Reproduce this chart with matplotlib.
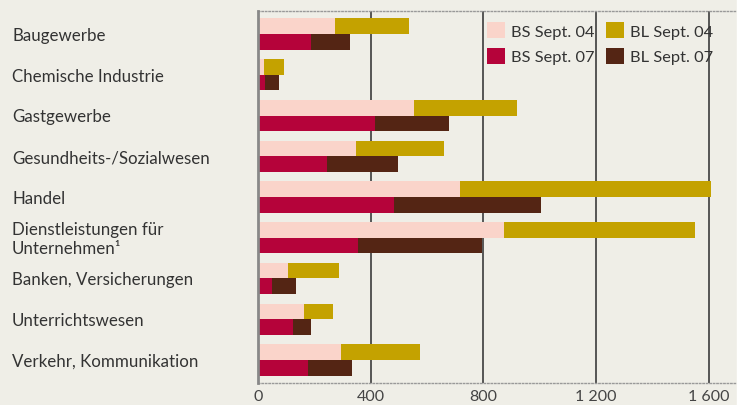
import matplotlib
matplotlib.use("Agg")
import matplotlib.pyplot as plt
import matplotlib.transforms as mtransforms
import numpy as np

# data
branchen = ["Baugewerbe", "Chemische Industrie", "Gastgewerbe", "Gesundheits-/Sozialwesen",
            "Handel", "Dienstleistungen für\nUnternehmen¹", "Banken, Versicherungen",
            "Unterrichtswesen", "Verkehr, Kommunikation"]
bs_04 = [273, 21, 554, 348, 718, 874, 107, 163, 295]
bl_04 = [263, 71, 366, 313, 891, 678, 181, 103, 280]
bs_07 = [188, 25, 416, 245, 483, 355, 50, 124, 178]
bl_07 = [139, 50, 262, 252, 522, 441, 85, 64, 156]
xticks = [0, 400, 800, 1200, 1600]
xticklabels = ["0", "400", "800", "1 200", "1 600"]

c_bs04 = "#FAD4CA"
c_bl04 = "#C4A200"
c_bs07 = "#B5033A"
c_bl07 = "#542514"
bg = "#EFEEE7"

plt.rcParams['font.family'] = ['Lato', 'DejaVu Sans']

fig = plt.figure(figsize=(7.44, 4.06), dpi=100)
fig.patch.set_facecolor(bg)
ax = fig.add_axes([258/744, 1 - 384/406, (737 - 258)/744, (384 - 12)/406])
ax.set_facecolor(bg)

y = np.arange(len(branchen))
h = 0.385

ax.barh(y - h/2, bs_04, height=h, color=c_bs04, label="BS Sept. 04", zorder=3)
ax.barh(y - h/2, bl_04, left=bs_04, height=h, color=c_bl04, label="BL Sept. 04", zorder=3)
ax.barh(y + h/2, bs_07, height=h, color=c_bs07, label="BS Sept. 07", zorder=3)
ax.barh(y + h/2, bl_07, left=bs_07, height=h, color=c_bl07, label="BL Sept. 07", zorder=3)

ax.set_xlim(0, 1700)
ax.set_ylim(len(branchen) - 0.435, -0.565)

# gridlines
for v in xticks[1:]:
    ax.axvline(v, color="#555555", lw=1.4, zorder=2)

ax.set_xticks(xticks)
ax.set_xticklabels(xticklabels, fontsize=11.5, color="#444444")
ax.tick_params(axis="x", length=0, pad=4)
ax.set_yticks([])

ax.spines["right"].set_visible(False)
ax.spines["left"].set_color("#888888")
ax.spines["left"].set_linewidth(2)
ax.spines["left"].set_zorder(4)
for s in ["top", "bottom"]:
    ax.spines[s].set_color("#999999")
    ax.spines[s].set_linestyle((0, (1, 1.5)))
    ax.spines[s].set_linewidth(1)

# category labels, left aligned at figure edge
trans = mtransforms.blended_transform_factory(fig.transFigure, ax.transData)
for yi, name in zip(y, branchen):
    ax.text(12/744, yi + 0.02, name, transform=trans, ha="left", va="center",
            fontsize=12.2, color="#333333", linespacing=1.2)

# legend
handles, labels = ax.get_legend_handles_labels()
order = [0, 2, 1, 3]
leg = ax.legend([handles[i] for i in order], [labels[i] for i in order], ncol=2,
                loc="upper left", bbox_to_anchor=(0.455, 1.0), frameon=False,
                fontsize=11.8, handlelength=1.1, handleheight=1.1, handletextpad=0.35,
                columnspacing=0.7, labelspacing=0.55, borderaxespad=0.3)
for t in leg.get_texts():
    t.set_color("#333333")

# white strip at right edge
fig.patches.append(plt.Rectangle((737/744, 0), 7/744, 1, transform=fig.transFigure,
                                 color="white", zorder=0))

fig.savefig("out.png", dpi=100, facecolor=fig.get_facecolor())
